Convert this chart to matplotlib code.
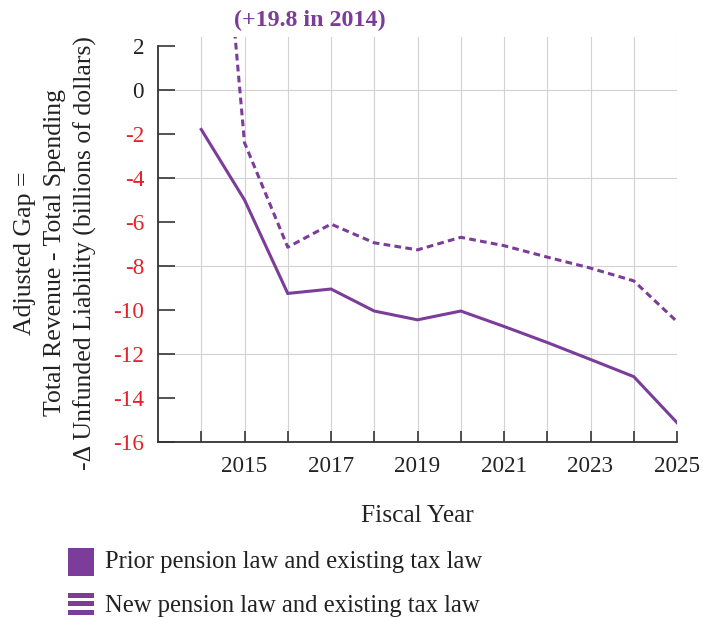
import numpy as np
import matplotlib
matplotlib.use("Agg")
import matplotlib.pyplot as plt
from matplotlib.patches import Rectangle

plt.rcParams['font.family'] = ['Liberation Serif', 'DejaVu Serif']

# data
years = [2014, 2015, 2016, 2017, 2018, 2019, 2020, 2021, 2022, 2023, 2024, 2025]
prior_law = [-1.8, -5.0, -9.25, -9.05, -10.05, -10.45, -10.05, -10.75, -11.48, -12.25, -13.03, -15.12]
new_law = [19.8, -2.4, -7.15, -6.1, -6.95, -7.27, -6.7, -7.08, -7.6, -8.1, -8.68, -10.53]
ytick_vals = [2, 0, -2, -4, -6, -8, -10, -12, -14, -16]
xtick_vals = [2015, 2017, 2019, 2021, 2023, 2025]
label_prior = "Prior pension law and existing tax law"
label_new = "New pension law and existing tax law"

purple = '#7b3d99'
red = '#e8202a'
W, H = 703, 618

fig = plt.figure(figsize=(7.03, 6.18), dpi=100)
ax = fig.add_axes([158 / W, 1 - 442 / H, (677 - 158) / W, (442 - 37) / H])

ax.plot(years, prior_law, color=purple, lw=2.2, solid_joinstyle='miter')
ax.plot(years, new_law, color=purple, lw=2.2, ls=(0, (2.2, 1.4)))

ax.set_xlim(2013, 2025)
ax.set_ylim(-16, 2.4)

# grid
for yr in years:
    ax.axvline(yr, color='#d2d2d2', lw=0.8, zorder=0)
for gv in [0, -4, -8, -12]:
    ax.axhline(gv, color='#d2d2d2', lw=0.8, zorder=0)

ax.spines['top'].set_visible(False)
ax.spines['right'].set_visible(False)
ax.spines['left'].set_bounds(-16, 2)
ax.spines['left'].set_color('#333333')
ax.spines['bottom'].set_color('#333333')
ax.spines['left'].set_linewidth(1.3)
ax.spines['bottom'].set_linewidth(1.3)

ax.set_yticks(ytick_vals)
ax.set_yticklabels([str(v) for v in ytick_vals], fontsize=16.7)
for lab, v in zip(ax.get_yticklabels(), ytick_vals):
    lab.set_color(red if v < 0 else '#222222')
ax.tick_params(axis='y', direction='in', length=12, width=1.3, color='#444444', pad=10)

ax.set_xticks(years, minor=False)
ax.set_xticklabels([str(y) if y in xtick_vals else '' for y in years], fontsize=16.7, color='#222222')
ax.tick_params(axis='x', direction='in', length=8, width=1.3, color='#444444', pad=10)

ax.set_xlabel("Fiscal Year", fontsize=18.3, color='#222222', labelpad=20)

ylab_y = 1 - 253 / H
fig.text(25 / W, ylab_y, "Adjusted Gap =", rotation=90, ha='center', va='center',
         fontsize=18.5, color='#222222')
fig.text(55 / W, ylab_y, "Total Revenue - Total Spending", rotation=90, ha='center', va='center',
         fontsize=18.5, color='#222222')
fig.text(85 / W, ylab_y, "-\u0394 Unfunded Liability (billions of dollars)", rotation=90,
         ha='center', va='center', fontsize=18.5, color='#222222')

fig.text(310 / W, 1 - 20 / H, "(+19.8 in 2014)", ha='center', va='center', fontsize=17.3,
         fontweight='bold', color=purple)

# legend
fig.add_artist(Rectangle((68 / W, 1 - 576 / H), 26 / W, 28 / H, transform=fig.transFigure,
                         facecolor=purple, edgecolor='none'))
for top in [593, 601, 610]:
    fig.add_artist(Rectangle((68 / W, 1 - (top + 5) / H), 26 / W, 5 / H, transform=fig.transFigure,
                             facecolor=purple, edgecolor='none'))
fig.text(105 / W, 1 - 562 / H, label_prior, ha='left', va='center', fontsize=17.7, color='#222222')
fig.text(105 / W, 1 - 606 / H, label_new, ha='left', va='center', fontsize=17.7, color='#222222')

fig.savefig("out.png", dpi=100)
